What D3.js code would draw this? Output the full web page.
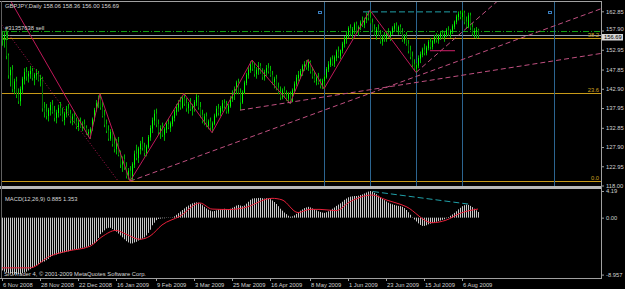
<!DOCTYPE html>
<html>
<head>
<meta charset="utf-8">
<script src="https://cdn.jsdelivr.net/npm/d3@7"></script>
<style>
  body { margin: 0; background: #000; }
  svg { display: block; }
  text { font-family: "Liberation Sans", Arial, sans-serif; font-size: 5.8px; }
</style>
</head>
<body>
<div id="chart"></div>
<script>
// daily bars, GBPJPY, 6 Nov 2008 .. Aug 2009
const opens = [
  156.5,155.5,156.8,151.5,146.5,147.8,143,144.8,141.5,139.8,
  142.8,145.5,147.2,146.2,146.8,147.5,145.8,146.5,146.9,145.2,
  145.5,138,137,136,137.5,138.8,137,135.5,136.8,138,
  136.5,135,136.5,137.8,136.5,134.8,135.8,134.5,133.2,134.2,
  133,133.8,132.8,131.5,131.8,132.5,135,137.5,139.2,140.5,
  138.2,136,133.8,132.2,130.2,131.8,128.8,127.5,129.2,126,
  123.5,124.8,122.8,120.5,121.8,119.8,123.5,126.2,125.2,127.5,
  128.8,127.8,126.5,128,130.5,132.8,134.8,136.5,133.8,131.8,
  132.8,131.2,132.5,133.8,133,134,135.5,137,138.2,139.5,
  138.2,140.5,139.2,138,139,137.8,138.5,139.5,140.8,138.2,
  136.2,134.8,135.8,133.5,134.5,133,134,136,137.8,136.8,
  138,139.2,138.5,137.2,138.5,140.5,141.8,142.8,144.5,142,
  139.5,142,144.5,146.5,147.8,149.2,148.2,146.8,147.8,148.8,
  147.2,146,147.2,148.2,147.5,146.5,144.8,145.5,143.2,142,
  140.8,142.5,141.2,140.5,141.5,139.8,142.5,144.2,145.8,146.5,
  147.5,148.8,149.2,148.5,149.8,147.5,146.2,145,145.8,144.5,
  143.8,145,146,148,149.2,150.5,149.5,151,152.5,151.5,
  152.8,154.5,155.8,156.8,158.5,157.2,158.2,159.5,157.8,158.8,
  160,159.5,160.8,161.8,161.2,160,158.2,157,158.2,157,
  155.2,156.2,155.8,157.2,156.5,157.5,158.5,159.2,158,158.8,
  157.5,155.5,156.5,154.5,152.8,151.2,149.2,148.2,149,150.8,
  151.8,153,152.2,153.5,155,153.8,155.2,156.2,155.5,156.5,
  157.2,156.2,157,158,157.2,157.8,159,160.2,161.5,162.2,
  161.5,162.5,160.2,159,161.8,158.8,157.2,157.8,158.06
];
const highs = [
  157.8,157.5,158.2,152,148.5,149,145.5,146,143,143.5,
  146,148.2,148.5,147.5,148.8,148.3,147,148,147.5,146.5,
  146,139.5,139,138,139.5,140,138.5,137.5,138.8,139.5,
  138,137,138.5,139,137.5,136.5,137,135.5,135,135.5,
  134.5,135,133.5,132.5,133,135.5,138,140,141.2,141.6,
  139.5,137.5,135,133.5,132.5,132.5,130.5,130,130.5,127,
  125.5,126,124,122.5,123,124,127,128.5,128,129.5,
  130.5,129,128.5,131,133.5,135.5,137.5,137.8,135,133.5,
  134.2,133,134.5,135.2,134.5,136,137.5,139,140,140.8,
  141,141.7,140.5,139.5,140.5,139,140,141.5,141.2,139.5,
  137.5,136.5,136.8,135,135.5,134.5,136.5,138.5,139,138.5,
  140,140.2,139.8,139,141,142.5,143.5,145,145.5,143,
  142.5,145,147,148.5,150,150.3,149.5,148.5,149.8,149.5,
  148.2,147.8,149,149.5,148.8,147.5,146,146.5,144.5,143.5,
  143,143.5,142.5,142,142.2,143,144.8,146.5,147.5,148,
  149.2,150,150.3,150.5,150.2,148.5,147.2,146.5,147,145.5,
  145.5,146.5,148.5,150,151,151.5,151.5,153,153.8,153,
  155,156.5,157.5,159,159.5,158.8,160,160.2,159.2,160.5,
  161.5,161.2,162.5,163,163.1,161,159.5,158.8,159.5,158,
  156.8,157.5,157.8,158.5,157.8,159,159.8,160,159.2,159.5,
  158.5,157,157.5,155.5,154,152.5,150.5,149.5,151.5,152.5,
  153.5,154.5,154,155.5,156,155.5,156.8,157.2,157,157.8,
  158,157.5,158.5,159,158.2,159.5,160.5,162,162.8,163,
  163.2,163,161.5,162.5,162.5,159.8,158.5,158.8,158.36
];
const lows = [
  154,153.5,150.5,145.5,143.5,142,141.5,140.5,139,138.5,
  141.5,144,145,144.5,145.5,145,143.8,145.2,144.8,143.5,
  137,135.5,135,134.5,136,136.5,134.5,134,135.5,136,
  134.5,133.5,135.5,136,134,133.5,134,132.5,132,132.8,
  132,132.5,131,130.5,130,132,134.5,137,138,137.5,
  135.5,133,131.5,129.5,129.5,128,126.5,126,125.5,122.5,
  121.5,122,119.8,119.5,119.1,119.4,122.5,124.5,123.8,126,
  127,125.5,125.5,127.5,129.5,131.5,133.5,133,131,130,
  130.5,129.5,131.5,132.5,131.8,133.2,134.5,136,137,137.5,
  137.8,138.5,137,136.5,137.2,136,137,138.5,137.5,135.5,
  134,133.5,133,132.5,132.3,131.6,133.5,135.5,136,135.8,
  137,137.8,136.5,136.5,138,139.5,140,141.5,141.5,137.4,
  139,141.5,143.8,145.5,147,147.5,146,145.5,146.5,146.8,
  145.2,145,146.2,146.8,146,144,143,142.5,141.5,140,
  140.2,140.5,139.8,139.2,139,139.5,142,143.5,144.8,145.5,
  146.2,147.5,147.8,147.5,146.8,145.5,144.5,143.8,144,143,
  142.8,142.8,145.5,147.2,148.5,148.8,148.5,150,150.8,150.5,
  152,153.5,154.5,156,156.5,155.5,157,157.2,156.5,158,
  158.8,158.5,159.8,160.5,159.5,157.5,156.5,155.5,156.5,154.5,
  154,155,155,156,155.2,156.8,157.5,157.5,156.8,157,
  155,154.5,154,152,150.5,148.5,147.5,147.1,148.2,149.5,
  151,151.5,151.5,152.8,153,153,154.5,154.8,154.5,155.5,
  155.8,155,156.2,156.5,156,157,158.2,159.5,160.5,160.8,
  160.5,159.5,158.5,158.5,158,156.5,156,155.8,156
];
const closes = [
  155.5,156.8,151.5,146.5,147.8,143,144.8,141.5,139.8,142.8,
  145.5,147.2,146.2,146.8,147.5,145.8,146.5,146.9,145.2,145.5,
  138,137,136,137.5,138.8,137,135.5,136.8,138,136.5,
  135,136.5,137.8,136.5,134.8,135.8,134.5,133.2,134.2,133,
  133.8,132.8,131.5,131.8,132.5,135,137.5,139.2,140.5,138.2,
  136,133.8,132.2,130.2,131.8,128.8,127.5,129.2,126,123.5,
  124.8,122.8,120.5,121.8,119.8,123.5,126.2,125.2,127.5,128.8,
  127.8,126.5,128,130.5,132.8,134.8,136.5,133.8,131.8,132.8,
  131.2,132.5,133.8,133,134,135.5,137,138.2,139.5,138.2,
  140.5,139.2,138,139,137.8,138.5,139.5,140.8,138.2,136.2,
  134.8,135.8,133.5,134.5,133,134,136,137.8,136.8,138,
  139.2,138.5,137.2,138.5,140.5,141.8,142.8,144.5,142,139.5,
  142,144.5,146.5,147.8,149.2,148.2,146.8,147.8,148.8,147.2,
  146,147.2,148.2,147.5,146.5,144.8,145.5,143.2,142,140.8,
  142.5,141.2,140.5,141.5,139.8,142.5,144.2,145.8,146.5,147.5,
  148.8,149.2,148.5,149.8,147.5,146.2,145,145.8,144.5,143.8,
  145,146,148,149.2,150.5,149.5,151,152.5,151.5,152.8,
  154.5,155.8,156.8,158.5,157.2,158.2,159.5,157.8,158.8,160,
  159.5,160.8,161.8,161.2,160,158.2,157,158.2,157,155.2,
  156.2,155.8,157.2,156.5,157.5,158.5,159.2,158,158.8,157.5,
  155.5,156.5,154.5,152.8,151.2,149.2,148.2,149,150.8,151.8,
  153,152.2,153.5,155,153.8,155.2,156.2,155.5,156.5,157.2,
  156.2,157,158,157.2,157.8,159,160.2,161.5,162.2,161.5,
  162.5,160.2,159,161.8,158.8,157.2,157.8,158.06,156.69
];

// MACD(12,26,9): main histogram per bar, signal line read at sample bars
const macdMain = [
  -8.3,-8.5,-8.6,-8.7,-8.8,-8.9,-8.957,-8.95,-8.9,-8.85,
  -8.7,-8.6,-8.5,-8.3,-8.1,-7.9,-7.7,-7.5,-7.3,-7.1,
  -7.0,-6.9,-6.7,-6.5,-6.2,-6.0,-5.9,-5.8,-5.7,-5.6,
  -5.5,-5.45,-5.35,-5.3,-5.2,-5.1,-5.0,-4.95,-4.9,-4.8,
  -4.75,-4.7,-4.6,-4.5,-4.3,-4.2,-4.0,-3.8,-3.2,-2.6,
  -2.3,-2.0,-1.7,-1.6,-1.6,-1.8,-2.0,-2.2,-2.5,-2.8,
  -3.1,-3.4,-3.7,-3.9,-4.06,-4.05,-3.9,-3.8,-3.6,-3.45,
  -3.3,-3.1,-2.8,-2.4,-1.9,-1.2,-0.8,-0.4,-0.2,-0.15,
  -0.1,-0.1,-0.05,-0.05,-0.03,0.05,0.2,0.45,0.7,0.95,
  1.2,1.45,1.7,1.9,2.1,2.25,2.35,2.4,2.35,2.2,
  1.95,1.7,1.45,1.25,1.1,1.0,1.05,1.15,1.25,1.3,
  1.35,1.4,1.35,1.3,1.4,1.55,1.7,1.9,2.0,1.9,
  1.8,1.9,2.2,2.5,2.8,3.0,3.05,3.05,3.1,3.1,
  3.05,3.0,3.05,3.0,2.9,2.7,2.45,2.15,1.8,1.4,
  1.1,0.8,0.55,0.3,0.15,0.2,0.35,0.6,0.85,1.1,
  1.3,1.5,1.6,1.7,1.6,1.45,1.3,1.15,1.0,0.9,
  0.8,0.75,0.85,1.0,1.2,1.4,1.6,1.85,2.05,2.25,
  2.5,2.8,3.0,3.2,3.3,3.35,3.4,3.4,3.45,3.55,
  3.65,3.8,3.95,4.1,4.19,4.1,3.9,3.7,3.45,3.2,
  2.95,2.75,2.55,2.35,2.2,2.1,2.0,1.9,1.85,1.8,
  1.7,1.5,1.2,0.85,0.45,0.05,-0.3,-0.6,-0.9,-1.15,
  -1.3,-1.3,-1.2,-1.05,-0.95,-0.85,-0.75,-0.65,-0.55,-0.45,
  -0.35,-0.25,-0.1,0.1,0.3,0.5,0.75,1.0,1.3,1.55,
  1.8,1.95,2.05,2.0,1.85,1.65,1.4,1.15,0.885
];
const signalBars = [0,14,24,32,44,50,57,62,69,74,80,89,99,105,114,121,135,140,148,154,159,167,174,185,192,202,215,222,229,238];
const signalValues = [-7.9,-7.9,-6.05,-5.3,-4.5,-3.0,-2.0,-2.6,-3.4,-2.9,-1.15,0.24,2.3,1.35,1.28,1.55,3.04,2.8,0.8,1.3,1.3,1.1,2.5,3.56,2.8,1.75,-0.8,-0.4,0.68,1.353];

// axis labels
const dateLabels = ['6 Nov 2008','28 Nov 2008','22 Dec 2008','16 Jan 2009','9 Feb 2009','3 Mar 2009','25 Mar 2009','16 Apr 2009','8 May 2009','1 Jun 2009','23 Jun 2009','15 Jul 2009','6 Aug 2009'];
const dateLabelBars = [0,19,38,57,77,96,115,134,154,173,192,211,230];
const priceTicks = [162.85,157.90,152.95,147.85,142.90,137.95,132.85,127.90,122.95,118.00];
const macdTicks = [4.19, 0, -8.957];
const macdTickLabels = ['4.19', '0.00', '-8.957'];

// objects on the chart
const fibLevels = ['0.0', '23.6', '38.2'];
const fibPrices = [119.1, 141.75, 155.9];
const sellPrice = 157.75;
const bidPrice = 156.69;
const vLineBars = [161, 184, 207, 230, 276];
const vLineMarks = [158, 273];
const zigBars = [1, 44, 49, 64, 91, 105, 125, 144, 153, 161, 184, 207];
const zigPrices = [168.5, 130.0, 141.6, 119.1, 141.7, 131.6, 150.3, 139.1, 150.4, 142.9, 163.1, 147.1];
const dotLine = [[-1, 159.9], [58, 119.2]];
const trendLines = [
  [[64, 119.1], [299.5, 163.5]],
  [[119, 137.4], [299.5, 152.0]],
  [[207, 147.1], [250, 166.5]]
];
const stopSegment = [[214, 152.7], [226.5, 152.7]];
const divPrice = [[180.5, 162.7], [227.5, 162.7]];
const divMacd = [[185.5, 4.1], [234, 2.1]];

const W = 625, H = 289;
const svg = d3.select('#chart').append('svg')
  .attr('width', W).attr('height', H)
  .style('background', '#000');

const x = d3.scaleLinear().domain([0, 299.5]).range([2, 601]);
const y = d3.scaleLinear().domain([118, 162.85]).range([185.5, 11.3]);
const ym = d3.scaleLinear().domain([-8.957, 4.19]).range([274.6, 191]);

const defs = svg.append('defs');
defs.append('clipPath').attr('id', 'clipMain')
  .append('rect').attr('x', 1).attr('y', 1).attr('width', 600).attr('height', 185);
defs.append('clipPath').attr('id', 'clipMacd')
  .append('rect').attr('x', 1).attr('y', 189).attr('width', 600).attr('height', 89);

const main = svg.append('g').attr('clip-path', 'url(#clipMain)');
const sub = svg.append('g').attr('clip-path', 'url(#clipMacd)');
const px = (i) => Math.round(x(i)) + 0.5;

// horizontal levels
main.selectAll('.fib').data(fibPrices).enter().append('line')
  .attr('x1', 0).attr('x2', 601)
  .attr('y1', (d) => Math.round(y(d)) + 0.5).attr('y2', (d) => Math.round(y(d)) + 0.5)
  .attr('stroke', '#c89a18').attr('stroke-width', 1);
main.append('line')
  .attr('x1', 0).attr('x2', 601)
  .attr('y1', Math.round(y(sellPrice)) + 0.5).attr('y2', Math.round(y(sellPrice)) + 0.5)
  .attr('stroke', '#10a010').attr('stroke-dasharray', '6,2,1,2');
main.append('line')
  .attr('x1', 0).attr('x2', 601)
  .attr('y1', Math.round(y(bidPrice)) + 0.5).attr('y2', Math.round(y(bidPrice)) + 0.5)
  .attr('stroke', '#9aa0a8');

// vertical lines and their small tags
main.selectAll('.vline').data(vLineBars).enter().append('line')
  .attr('x1', px).attr('x2', px).attr('y1', 0).attr('y2', 186)
  .attr('stroke', '#2c6590');
main.selectAll('.vtag').data(vLineMarks).enter().append('rect')
  .attr('x', (b) => Math.round(x(b)) + 0.5).attr('y', 11.5)
  .attr('width', 3).attr('height', 2)
  .attr('fill', 'none').attr('stroke', '#3a7fc0');

// candles
const bars = d3.range(closes.length);
main.selectAll('.wick').data(bars).enter().append('line')
  .attr('x1', px).attr('x2', px)
  .attr('y1', (i) => y(highs[i])).attr('y2', (i) => y(lows[i]))
  .attr('stroke', '#00b400');
main.selectAll('.body').data(bars).enter().append('line')
  .attr('x1', px).attr('x2', px)
  .attr('y1', (i) => y(Math.max(opens[i], closes[i])))
  .attr('y2', (i) => y(Math.min(opens[i], closes[i])) + 0.5)
  .attr('stroke', (i) => closes[i] >= opens[i] ? '#00ff00' : '#006e00');

// zigzag, dotted and trend lines
const ln = d3.line().x((d) => x(d[0])).y((d) => y(d[1]));
main.append('path')
  .attr('d', ln(zigBars.map((b, k) => [b, zigPrices[k]])))
  .attr('fill', 'none').attr('stroke', '#c0185a').attr('stroke-width', 1);
main.append('path')
  .attr('d', ln(dotLine))
  .attr('fill', 'none').attr('stroke', '#b01850').attr('stroke-dasharray', '1,2');
main.selectAll('.trend').data(trendLines).enter().append('path')
  .attr('d', ln)
  .attr('fill', 'none').attr('stroke', '#c05080').attr('stroke-dasharray', '5,3');
main.append('path')
  .attr('d', ln(stopSegment))
  .attr('fill', 'none').attr('stroke', '#d0206a').attr('stroke-width', 1);
main.append('path')
  .attr('d', ln(divPrice))
  .attr('fill', 'none').attr('stroke', '#20a0a8').attr('stroke-dasharray', '6,3');

// MACD
sub.selectAll('.hist').data(bars).enter().append('line')
  .attr('x1', px).attr('x2', px)
  .attr('y1', ym(0)).attr('y2', (i) => ym(macdMain[i]))
  .attr('stroke', '#c8c8c8');
sub.append('path')
  .attr('d', d3.line().x((d) => x(d)).y((d, k) => ym(signalValues[k])).curve(d3.curveMonotoneX)(signalBars))
  .attr('fill', 'none').attr('stroke', '#e8203a').attr('stroke-width', 1);
sub.append('path')
  .attr('d', d3.line().x((d) => x(d[0])).y((d) => ym(d[1]))(divMacd))
  .attr('fill', 'none').attr('stroke', '#20a0a8').attr('stroke-dasharray', '6,3');

// frames and separator
const grey = '#a0a0a0';
svg.append('rect').attr('x', 0).attr('y', 186).attr('width', 602).attr('height', 3).attr('fill', '#b8b8b8');
svg.append('line').attr('x1', 0).attr('x2', 602).attr('y1', 1.5).attr('y2', 1.5).attr('stroke', grey);
svg.append('line').attr('x1', 1.5).attr('x2', 1.5).attr('y1', 1).attr('y2', 278).attr('stroke', '#606060');
svg.append('line').attr('x1', 601.5).attr('x2', 601.5).attr('y1', 1).attr('y2', 279).attr('stroke', grey);
svg.append('line').attr('x1', 0).attr('x2', 602).attr('y1', 278.5).attr('y2', 278.5).attr('stroke', grey);

// price axis
const yAxis = svg.append('g').attr('transform', 'translate(601,0)')
  .call(d3.axisRight(y).tickValues(priceTicks).tickFormat(d3.format('.2f')).tickSize(3).tickPadding(2));
const macdAxis = svg.append('g').attr('transform', 'translate(601,0)')
  .call(d3.axisRight(ym).tickValues(macdTicks).tickFormat((d, k) => macdTickLabels[k]).tickSize(3).tickPadding(2));
[yAxis, macdAxis].forEach((g) => {
  g.select('.domain').remove();
  g.selectAll('line').attr('stroke', grey);
  g.selectAll('text').attr('fill', '#d0d0d0').attr('font-size', 5.8).attr('font-family', '"Liberation Sans", Arial, sans-serif');
});
// keep the 157.90 label clear of the bid box
yAxis.selectAll('.tick').filter((d) => d === 157.90).select('text').attr('dy', '-0.05em');

// bid box
const bidY = Math.round(y(bidPrice));
svg.append('rect').attr('x', 602).attr('y', bidY - 1).attr('width', 21).attr('height', 6.5).attr('fill', '#d8d8d8');
svg.append('text').attr('x', 604).attr('y', bidY + 4.2).attr('fill', '#000').text(d3.format('.2f')(bidPrice));

// fib labels
svg.selectAll('.fibl').data(fibPrices).enter().append('text')
  .attr('x', 599).attr('y', (d) => y(d) - 1.5)
  .attr('text-anchor', 'end').attr('fill', '#d0a020')
  .text((d, k) => fibLevels[k]);

// date axis
const dates = svg.append('g');
dates.selectAll('line').data(dateLabelBars).enter().append('line')
  .attr('x1', px).attr('x2', px).attr('y1', 278).attr('y2', 281).attr('stroke', grey);
dates.selectAll('text').data(dateLabelBars).enter().append('text')
  .attr('x', (b) => x(b) + 1).attr('y', 287)
  .attr('fill', '#d0d0d0')
  .text((b, k) => dateLabels[k]);

// captions
const cap = '#d8d8d8';
svg.append('text').attr('x', 5).attr('y', 8).attr('fill', cap).text('GBPJPY,Daily  158.06 158.36 156.00 156.69');
svg.append('text').attr('x', 5).attr('y', 30).attr('fill', cap).text('#31357638 sell');
svg.append('rect').attr('x', 2.5).attr('y', 31.5).attr('width', 5).attr('height', 8).attr('fill', 'none').attr('stroke', '#10a010');
svg.append('text').attr('x', 5).attr('y', 201).attr('fill', cap).text('MACD(12,26,9) 0.885 1.353');
svg.append('text').attr('x', 4).attr('y', 276).attr('fill', cap).text('SIGTrader 4, © 2001-2009 MetaQuotes Software Corp.');
</script>
</body>
</html>
